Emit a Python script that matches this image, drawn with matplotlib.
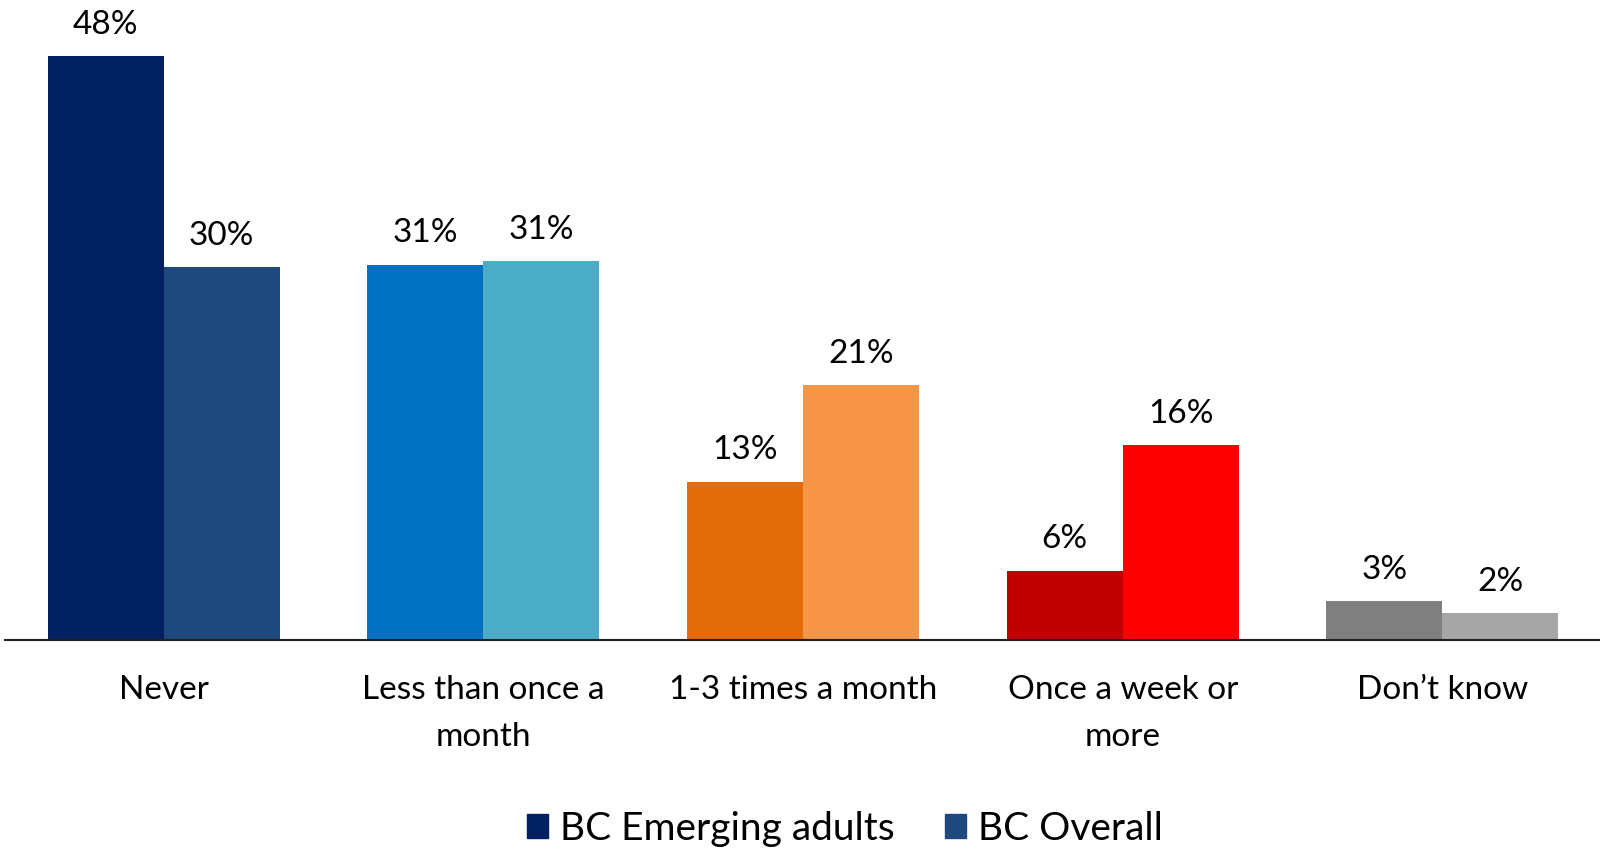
import matplotlib
matplotlib.use("Agg")
import matplotlib.pyplot as plt
from matplotlib.patches import Patch

# --- DATA ---
categories = ["Never", "Less than once a\nmonth", "1-3 times a month", "Once a week or\nmore", "Don\u2019t know"]
emerging = [47.9, 30.8, 13.0, 5.7, 3.2]
overall = [30.6, 31.1, 20.9, 16.0, 2.2]
emerging_labels = ["48%", "31%", "13%", "6%", "3%"]
overall_labels = ["30%", "31%", "21%", "16%", "2%"]
series_names = ["BC Emerging adults", "BC Overall"]

# each category has its own colour pair
emerging_colors = ["#002060", "#0070C0", "#E36C09", "#C00000", "#808080"]
overall_colors = ["#1F497D", "#4BACC6", "#F79646", "#FF0000", "#A6A6A6"]

plt.rcParams["font.family"] = ["Lato", "DejaVu Sans"]

fig = plt.figure(figsize=(16, 8.5), dpi=100)
ax = fig.add_axes([0.003, 0.247, 0.997, 0.753])

w = 0.363
x = list(range(len(categories)))
ax.bar([i - w / 2 for i in x], emerging, width=w, color=emerging_colors)
ax.bar([i + w / 2 for i in x], overall, width=w, color=overall_colors)

for i in x:
	ax.annotate(emerging_labels[i], (i - w / 2, emerging[i]), xytext=(0, 16),
				textcoords="offset points", ha="center", va="baseline", fontsize=24)
	ax.annotate(overall_labels[i], (i + w / 2, overall[i]), xytext=(0, 16),
				textcoords="offset points", ha="center", va="baseline", fontsize=24)

ax.set_xlim(-0.497, 4.493)
ax.set_ylim(0, 52.5)
ax.set_xticks(x)
ax.set_xticklabels(categories, fontsize=24, linespacing=1.7)
ax.tick_params(axis="x", length=0, pad=25)
ax.set_yticks([])
for s in ["top", "right", "left"]:
	ax.spines[s].set_visible(False)
ax.spines["bottom"].set_linewidth(1.5)
ax.spines["bottom"].set_color("#222222")

handles = [Patch(color=emerging_colors[0]), Patch(color=overall_colors[0])]
fig.legend(handles, series_names, loc="center", bbox_to_anchor=(0.528, 0.025),
		   ncol=2, frameon=False, fontsize=28, handlelength=0.55, handleheight=0.55,
		   handletextpad=0.3, columnspacing=1.3)

fig.savefig("out.png", dpi=100)
